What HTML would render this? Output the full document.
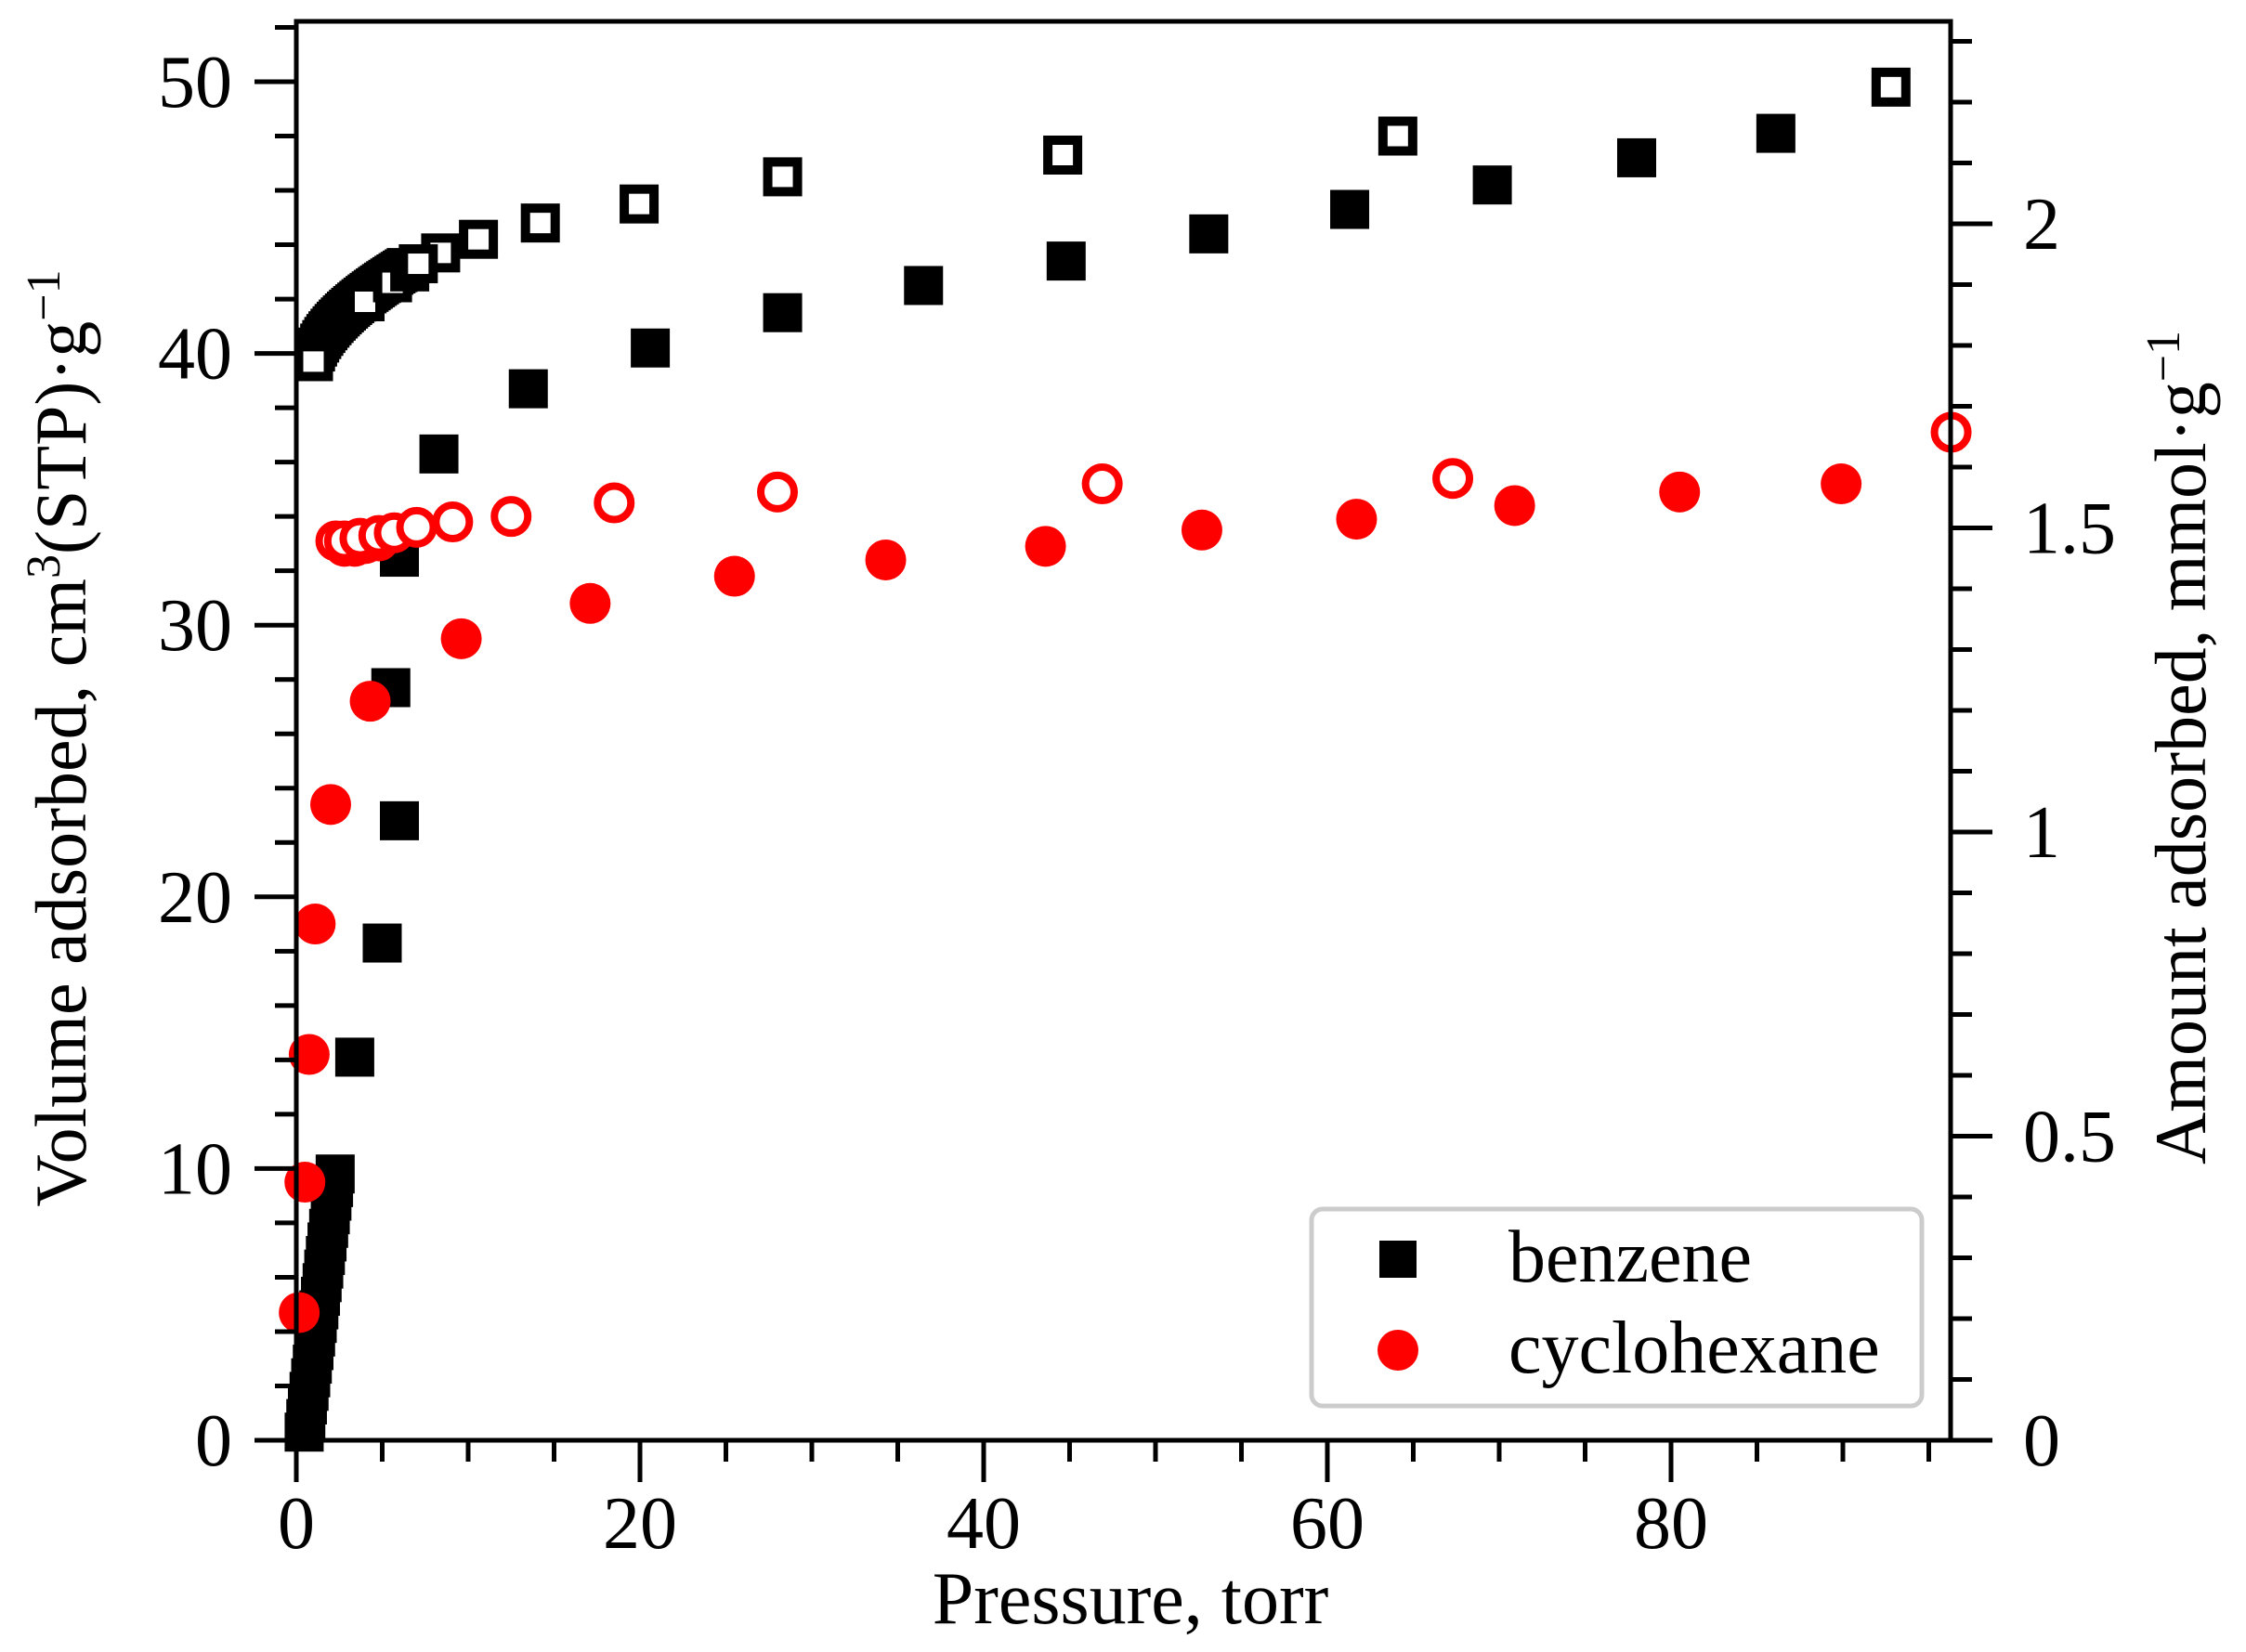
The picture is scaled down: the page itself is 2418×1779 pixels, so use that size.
<!DOCTYPE html>
<html><head><meta charset="utf-8"><style>
html,body{margin:0;padding:0;background:#fff;}
svg{display:block;}
text{font-family:"Liberation Serif","DejaVu Serif",serif;fill:#000;}
</style></head><body>
<svg id="s" width="2418" height="1779" xmlns="http://www.w3.org/2000/svg">
<rect width="2418" height="1779" fill="#fff"/>
<g id="data"></g>
<g id="axes" stroke="#000" stroke-width="5" fill="none">
<polyline points="319,1551 319,23 2100,23 2100,1551 319,1551"/>
</g>
<g id="ticks" stroke="#000" stroke-width="5"></g>
<g id="labels" font-size="80"></g>
<text x="1217" y="1748" font-size="80" text-anchor="middle">Pressure, torr</text>
<text transform="translate(92,795) rotate(-90)" font-size="78" text-anchor="middle">Volume adsorbed, cm<tspan baseline-shift="super" font-size="52">3</tspan>(STP)·g<tspan baseline-shift="super" font-size="52">−1</tspan></text>
<text transform="translate(2374,805) rotate(-90)" font-size="78" text-anchor="middle">Amount adsorbed, mmol·g<tspan baseline-shift="super" font-size="52">−1</tspan></text>
<rect x="1412" y="1302" width="657" height="212" rx="12" ry="12" fill="#fff" stroke="#cccccc" stroke-width="5"/>
<rect x="1485" y="1336" width="40" height="40" fill="#000"/>
<circle cx="1505" cy="1454" r="22" fill="#ff0000"/>
<text x="1624" y="1380" font-size="80">benzene</text>
<text x="1624" y="1478" font-size="80">cyclohexane</text>
</svg>
<script>
var NS="http://www.w3.org/2000/svg";
function X(p){return 319+18.5*p;}
function Y(v){return 1551-29.26*v;}
function el(parent,tag,attrs,txt){var e=document.createElementNS(NS,tag);for(var k in attrs)e.setAttribute(k,attrs[k]);if(txt!==undefined)e.textContent=txt;parent.appendChild(e);return e;}
var T=document.getElementById('ticks'),L=document.getElementById('labels'),D=document.getElementById('data');
for(var p=0;p<=95;p+=5){var maj=p%20==0;el(T,'line',{x1:X(p),y1:1551,x2:X(p),y2:1551+(maj?45:23)});if(maj)el(L,'text',{x:X(p),y:1667,'text-anchor':'middle'},String(p));}
for(var v=0;v<=52;v+=2){var maj=v%10==0;el(T,'line',{x1:319,y1:Y(v),x2:319-(maj?45:23),y2:Y(v)});if(maj)el(L,'text',{x:250,y:Y(v)+27,'text-anchor':'end'},String(v));}
for(var i=0;i<=23;i++){var m=i/10;var yy=1551-655*m;var maj=i%5==0;el(T,'line',{x1:2100,y1:yy,x2:2100+(maj?45:23),y2:yy});if(maj){var s=(i==0?'0':(i%10==0?String(i/10):String(m)));el(L,'text',{x:2178,y:yy+27},s);}}
function fsq(p,v){el(D,'rect',{x:X(p)-21,y:Y(v)-21,width:42,height:42,fill:'#000'});}
function osq(p,v){el(D,'rect',{x:X(p)-16,y:Y(v)-16,width:32,height:32,fill:'#fff',stroke:'#000','stroke-width':10});}
function fci(p,v){el(D,'circle',{cx:X(p),cy:Y(v),r:22,fill:'#ff0000'});}
function oci(p,v){el(D,'circle',{cx:X(p),cy:Y(v),r:18,fill:'#fff',stroke:'#ff0000','stroke-width':8});}
for(var v=0.3;v<=10;v+=0.5){fsq(0.4+0.19*v,v);}
[[3.4,14.1],[5.0,18.3],[6.0,22.8],[5.5,27.7],[6.0,32.5],[8.3,36.3],[13.5,38.7],[20.6,40.2],[28.3,41.5],[36.5,42.5],[44.8,43.4],[53.1,44.4],[61.3,45.3],[69.6,46.2],[78.0,47.2],[86.1,48.1]].forEach(function(a){fsq(a[0],a[1]);});
for(var p=1.0;p<=6.5;p+=0.12){fsq(p,39.7+3.5*Math.pow((p-1)/5.5,0.6));}
osq(1.0,39.7);osq(4.0,41.9);osq(5.6,42.6);osq(6.6,43.0);
[[92.8,49.8],[64.1,48.0],[44.6,47.3],[28.3,46.5],[19.95,45.5],[14.2,44.8],[10.6,44.2],[8.4,43.7],[7.1,43.3]].forEach(function(a){osq(a[0],a[1]);});
[[2.8,32.9],[3.4,32.9],[4.0,33.0],[4.8,33.1]].forEach(function(a){fci(a[0],a[1]);});
[[0.17,4.7],[0.5,9.5],[0.75,14.2],[1.1,19.0],[2.0,23.4],[4.3,27.2],[9.6,29.5],[17.1,30.8],[25.5,31.8],[34.3,32.4],[43.6,32.9],[52.7,33.5],[61.7,33.9],[70.9,34.4],[80.5,34.9],[89.9,35.2]].forEach(function(a){fci(a[0],a[1]);});
[[2.3,33.1],[2.8,33.1],[3.7,33.2],[4.8,33.3],[5.7,33.4],[7.0,33.6],[9.1,33.8],[12.5,34.0],[18.5,34.5],[28.0,34.9],[46.9,35.2],[67.3,35.4],[96.3,37.1]].forEach(function(a){oci(a[0],a[1]);});
</script>
</body></html>
